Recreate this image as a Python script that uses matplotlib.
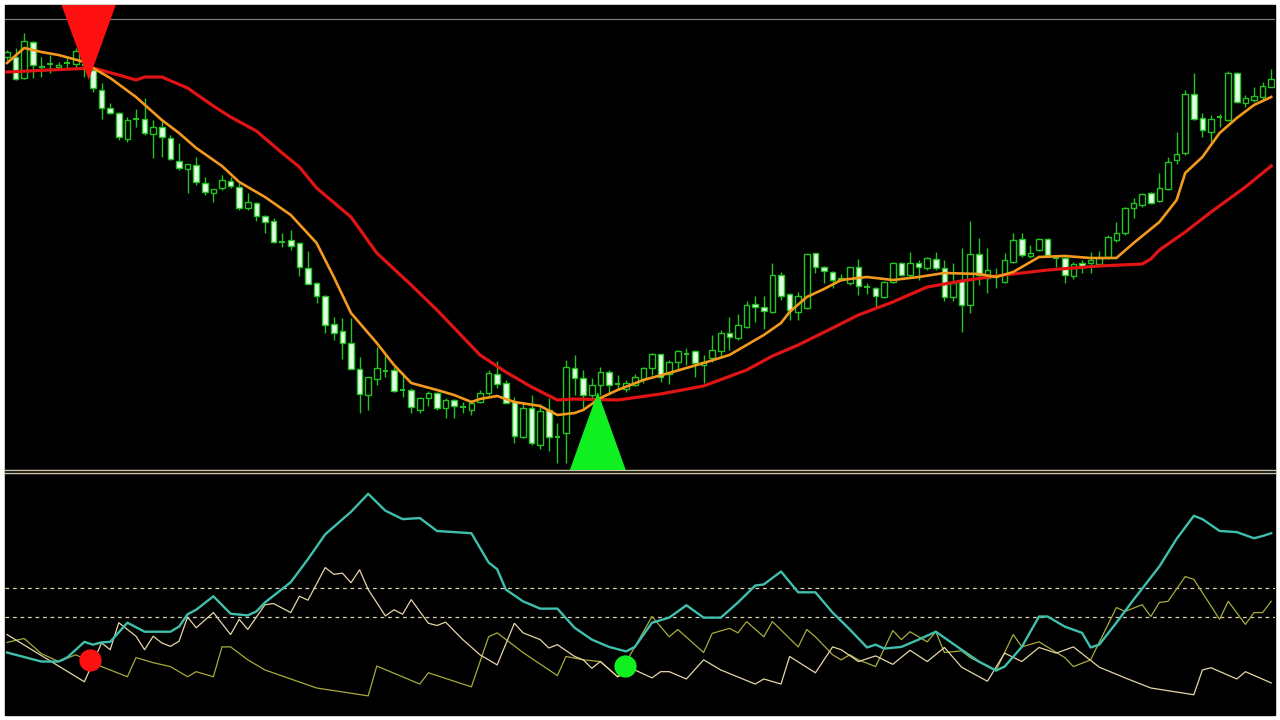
import numpy as np
import matplotlib
matplotlib.use("Agg")
import matplotlib.pyplot as plt
from matplotlib.patches import Rectangle

# price candles (chart points)
open_ = [443, 443, 422, 458, 434, 436, 433, 437, 436, 436, 430, 410, 392, 387, 361, 381, 381, 366, 373, 362,
         339, 331, 335, 317, 307, 312, 319, 313, 292, 297, 284, 279, 258, 260, 257, 232, 217, 204, 176, 169,
         157, 131, 105, 121, 129, 130, 110, 110, 90, 102, 107, 92, 100, 93, 90, 98, 107, 126, 117, 98,
         63, 92, 55, 90, 63, 67, 132, 122, 105, 115, 128, 116, 111, 115, 121, 132, 146, 126, 138, 146,
         149, 135, 142, 149, 167, 162, 173, 196, 193, 188, 225, 206, 188, 192, 247, 233, 228, 222, 217, 233,
         213, 212, 203, 218, 237, 225, 237, 232, 241, 232, 203, 220, 195, 246, 222, 223, 218, 238, 261, 244,
         250, 261, 242, 242, 224, 237, 237, 236, 243, 260, 267, 292, 295, 307, 299, 311, 340, 347, 406, 382,
         368, 383, 380, 427, 397, 400, 403, 413]
high = [450, 452, 467, 459, 443, 445, 438, 442, 452, 437, 432, 417, 397, 388, 383, 391, 402, 380, 380, 365,
        357, 336, 343, 323, 311, 325, 323, 317, 307, 298, 285, 282, 267, 270, 258, 249, 218, 205, 183, 182,
        182, 143, 123, 153, 145, 133, 127, 112, 103, 109, 108, 102, 101, 98, 100, 110, 130, 139, 120, 103,
        97, 105, 96, 102, 77, 140, 145, 130, 122, 133, 130, 125, 120, 126, 133, 147, 146, 140, 150, 152,
        150, 145, 165, 170, 183, 186, 199, 204, 204, 237, 228, 207, 208, 246, 247, 234, 229, 226, 233, 241,
        217, 213, 219, 238, 238, 248, 240, 243, 248, 240, 237, 252, 279, 262, 252, 232, 247, 267, 267, 255,
        262, 262, 245, 243, 238, 240, 248, 249, 265, 278, 293, 302, 307, 308, 327, 343, 368, 410, 427, 387,
        385, 386, 429, 428, 405, 413, 418, 431]
low = [440, 420, 421, 422, 423, 427, 430, 432, 432, 423, 408, 381, 386, 360, 358, 373, 365, 342, 343, 340,
       330, 307, 315, 305, 298, 310, 312, 290, 290, 279, 267, 257, 253, 250, 224, 216, 197, 167, 160, 141,
       131, 87, 90, 115, 123, 108, 103, 87, 87, 94, 90, 82, 82, 87, 85, 97, 105, 112, 97, 57,
       62, 55, 51, 49, 37, 37, 105, 92, 100, 105, 106, 110, 108, 114, 117, 125, 118, 116, 130, 135,
       123, 117, 138, 143, 150, 160, 172, 178, 171, 187, 200, 180, 180, 191, 227, 217, 212, 219, 215, 205,
       206, 193, 202, 217, 224, 223, 220, 230, 230, 199, 199, 168, 187, 215, 207, 212, 217, 237, 243, 242,
       249, 244, 233, 217, 221, 227, 227, 235, 241, 258, 265, 282, 293, 296, 298, 310, 336, 345, 380, 363,
       358, 373, 379, 397, 393, 398, 400, 413]
close = [448, 421, 459, 435, 433, 436, 435, 437, 449, 435, 412, 392, 387, 363, 380, 381, 367, 373, 363, 341,
         332, 336, 318, 308, 311, 320, 314, 292, 298, 284, 278, 258, 258, 254, 233, 216, 204, 175, 167, 157,
         131, 106, 123, 132, 129, 109, 110, 93, 102, 107, 92, 100, 94, 93, 97, 107, 127, 116, 97, 64,
         92, 57, 89, 63, 63, 133, 122, 105, 115, 128, 115, 116, 117, 123, 132, 146, 123, 138, 149, 146,
         137, 138, 150, 167, 163, 175, 195, 193, 189, 225, 204, 190, 204, 246, 233, 229, 220, 220, 233, 214,
         213, 204, 218, 237, 225, 237, 233, 242, 232, 203, 217, 195, 246, 225, 230, 223, 240, 260, 245, 247,
         261, 245, 242, 225, 236, 234, 240, 242, 263, 267, 292, 297, 306, 297, 312, 338, 346, 406, 381, 370,
         381, 383, 427, 398, 402, 404, 414, 421]

# moving averages, read at bar positions
fast_ma_bar = [0, 2, 4, 6, 9, 10, 12, 15, 18, 20, 22, 25, 27, 30, 33, 36, 38, 40, 43, 45, 47, 50, 52, 54, 55,
               57, 59, 62, 64, 66, 67, 69, 71, 74, 77, 81, 84, 88, 90, 91, 93, 95, 97, 100, 103, 106, 109,
               113, 115, 117, 120, 123, 126, 129, 131, 134, 136, 137, 139, 141, 143, 145, 147]
fast_ma = [437, 452, 448, 445, 438, 432, 422, 403, 380, 367, 352, 334, 318, 303, 285, 257, 223, 187, 157, 135,
           117, 110, 105, 98, 101, 104, 98, 94, 85, 87, 90, 102, 110, 120, 127, 137, 145, 165, 177, 188,
           203, 211, 220, 223, 220, 223, 227, 226, 223, 228, 243, 244, 242, 242, 257, 278, 300, 327, 343,
           367, 382, 395, 403]
slow_ma_bar = [0, 5, 10, 13, 15, 16, 18, 21, 24, 26, 29, 32, 34, 36, 40, 43, 47, 50, 53, 55, 58, 61, 64, 66,
               71, 76, 81, 86, 89, 92, 96, 99, 103, 107, 111, 115, 121, 124, 127, 132, 133, 134, 137, 140,
               144, 147]
slow_ma = [428, 430, 432, 425, 420, 423, 423, 412, 394, 383, 369, 347, 333, 312, 283, 247, 215, 190, 163, 145,
           128, 113, 100, 101, 100, 106, 114, 130, 144, 155, 172, 185, 198, 213, 219, 224, 230, 232, 234, 236,
           241, 250, 268, 288, 313, 334]

level_price = 481
sell_bar, sell_price = 9.5, 420
buy_bar, buy_price = 68.7, 108

# ADX panel
adx_bar = [0, 4, 6, 7, 9, 10, 11, 12, 14, 16, 19, 20, 21, 22, 24, 26, 28, 29, 30, 33, 35, 37, 40, 42, 44, 46,
           48, 50, 54, 56, 57, 58, 60, 62, 64, 66, 68, 70, 72, 73, 75, 77, 79, 81, 83, 85, 87, 88, 90, 92,
           94, 96, 98, 100, 101, 102, 104, 106, 108, 111, 113, 115, 116, 118, 120, 121, 123, 125, 126, 127,
           129, 131, 134, 136, 138, 139, 141, 143, 145, 146, 147]
adx = [13.6, 12.0, 12.0, 12.7, 15.5, 15.0, 15.4, 15.5, 18.9, 17.3, 17.3, 18.2, 20.4, 21.2, 23.6, 20.5, 20.2,
       20.9, 22.5, 26.1, 30.2, 34.6, 38.6, 41.8, 38.8, 37.3, 37.5, 35.2, 34.8, 29.6, 28.4, 24.8, 22.7, 21.4,
       21.4, 18.0, 15.9, 14.6, 13.8, 14.6, 18.9, 19.8, 22.0, 19.8, 19.8, 22.5, 25.5, 25.7, 28.0, 24.3, 24.3,
       20.7, 17.7, 14.5, 15.0, 14.3, 14.6, 15.9, 17.3, 14.1, 12.0, 10.4, 11.1, 14.6, 20.0, 20.0, 18.2, 17.1,
       14.5, 15.0, 18.9, 23.0, 28.9, 33.8, 37.9, 37.3, 35.2, 35.0, 33.9, 34.3, 34.8]
minus_di_bar = [0, 9, 11, 12, 13, 15, 16, 17, 18, 19, 20, 21, 22, 24, 26, 27, 28, 30, 31, 33, 34, 35, 37, 38,
                39, 40, 41, 42, 44, 45, 46, 47, 49, 50, 51, 53, 55, 57, 59, 60, 62, 63, 64, 66, 67, 68, 69,
                71, 73, 75, 76, 77, 79, 81, 83, 87, 88, 90, 91, 94, 96, 97, 99, 101, 103, 105, 107, 109,
                111, 114, 116, 118, 120, 122, 124, 127, 130, 133, 138, 139, 140, 143, 144, 147]
minus_di = [16.8, 8.4, 15.3, 14.1, 18.9, 16.5, 14.1, 16.5, 15.3, 14.7, 15.6, 19.9, 18.0, 20.7, 16.8, 19.5,
            17.7, 22.1, 22.3, 20.7, 23.6, 22.9, 28.7, 27.5, 27.7, 26.0, 28.3, 24.8, 20.1, 21.2, 20.4, 23.0,
            18.8, 18.4, 19.0, 15.9, 13.2, 11.4, 18.8, 17.1, 15.9, 14.4, 15.0, 12.9, 12.3, 10.8, 12.0, 9.3,
            10.5, 9.1, 10.2, 10.2, 8.9, 12.3, 10.5, 8.0, 8.9, 8.0, 12.9, 10.0, 14.6, 14.1, 12.0, 13.0, 11.5,
            14.0, 12.0, 14.5, 11.0, 8.5, 13.5, 12.0, 14.5, 13.5, 14.6, 11.0, 9.1, 7.3, 6.1, 10.5, 10.9, 8.9,
            10.2, 8.2]
plus_di_bar = [0, 2, 4, 5, 6, 8, 11, 14, 15, 17, 19, 21, 22, 24, 25, 26, 28, 30, 33, 36, 42, 43, 48, 49, 54,
               56, 57, 60, 64, 65, 67, 69, 71, 73, 75, 77, 78, 81, 82, 84, 85, 86, 88, 89, 92, 93, 94, 96,
               97, 98, 99, 101, 103, 104, 105, 107, 108, 109, 111, 112, 115, 117, 118, 120, 123, 124, 126,
               129, 130, 132, 133, 134, 135, 137, 138, 141, 142, 144, 145, 146, 147]
plus_di = [15.4, 16.1, 13.4, 12.7, 12.0, 13.2, 11.1, 9.3, 12.7, 11.8, 11.1, 9.3, 10.2, 9.3, 14.6, 14.6, 12.3,
           10.5, 8.9, 7.3, 5.9, 11.2, 8.0, 10.0, 7.5, 16.4, 17.1, 13.6, 9.5, 12.9, 12.3, 12.0, 9.3, 14.6,
           20.0, 16.4, 17.7, 13.6, 17.0, 17.9, 17.1, 19.1, 16.4, 19.1, 14.6, 17.7, 16.4, 13.2, 12.3, 13.2,
           12.3, 11.1, 17.5, 15.9, 17.3, 15.5, 17.3, 13.6, 13.9, 12.7, 10.4, 16.8, 14.6, 15.5, 12.7, 11.1,
           12.3, 21.6, 20.9, 22.1, 20.0, 22.5, 22.7, 27.1, 26.6, 19.5, 22.7, 18.6, 20.7, 20.7, 22.7]
adx_levels = [20, 25]
sell_dot_bar, sell_dot = 9.65, 12.3
buy_dot_bar, buy_dot = 71.9, 11.25

GREEN = "#22c322"
BODY = "#e2ffe2"


def draw_candles(ax):
    x = np.arange(len(open_))
    o = np.array(open_, float)
    c = np.array(close, float)
    ax.vlines(x, low, high, color=GREEN, lw=1.0, zorder=2)
    lo = np.minimum(o, c)
    h = np.abs(c - o)
    up = c > o
    down = c < o
    flat = c == o
    ax.bar(x[up], h[up], bottom=lo[up], width=0.64, facecolor="black",
           edgecolor=GREEN, lw=1.0, zorder=3)
    ax.bar(x[down], h[down], bottom=lo[down], width=0.64, facecolor=BODY,
           edgecolor=GREEN, lw=1.0, zorder=3)
    ax.hlines(o[flat], x[flat] - 0.33, x[flat] + 0.33, color=GREEN, lw=1.5, zorder=3)


fig = plt.figure(figsize=(12.8, 7.2), dpi=100, facecolor="white")
# black backing so the small gap between the two panels stays dark
fig.patches.append(Rectangle((5 / 1280, 5 / 720), 1270 / 1280, 710 / 720,
                             transform=fig.transFigure, color="black", zorder=-10))

ax = fig.add_axes([5 / 1280, 250 / 720, 1270 / 1280, 465 / 720], facecolor="black", zorder=1)
ax2 = fig.add_axes([5 / 1280, 5 / 720, 1270 / 1280, 242 / 720], facecolor="black", zorder=1)

xmin, xmax = -0.23, 147.44

draw_candles(ax)
ax.plot(slow_ma_bar, slow_ma, color="#e01414", lw=2.3, zorder=4, solid_joinstyle="round")
ax.plot(fast_ma_bar, fast_ma, color="#f39a1e", lw=1.9, zorder=5, solid_joinstyle="round")
ax.axhline(level_price, color="#7a7a7a", lw=0.9, zorder=1)

# signal arrows
ax.fill([sell_bar - 3.15, sell_bar + 3.15, sell_bar], [sell_price + 75, sell_price + 75, sell_price],
        color="#ff1010", lw=0, zorder=6)
ax.fill([buy_bar - 3.25, buy_bar + 3.25, buy_bar], [buy_price - 78, buy_price - 78, buy_price],
        color="#10f020", lw=0, zorder=6)

ax.set_xlim(xmin, xmax)
ax.set_ylim(30, 495)

ax2.plot(plus_di_bar, plus_di, color="#a8aa3c", lw=0.9, zorder=3)
ax2.plot(minus_di_bar, minus_di, color="#e6d6a8", lw=0.9, zorder=3)
ax2.plot(adx_bar, adx, color="#3fc0ad", lw=1.7, zorder=4, solid_joinstyle="round")
for lv in adx_levels:
    ax2.axhline(lv, color="#d8d0b0", lw=0.9, dashes=(3, 3), zorder=2)
ax2.plot(sell_dot_bar, sell_dot, "o", color="#ff1010", ms=16, mec="none", zorder=5)
ax2.plot(buy_dot_bar, buy_dot, "o", color="#10f020", ms=16, mec="none", zorder=5)
ax2.set_xlim(xmin, xmax)
ax2.set_ylim(2.5, 45.5)

for a in (ax, ax2):
    a.set_xticks([])
    a.set_yticks([])
    for s in a.spines.values():
        s.set_visible(False)

ax.spines["bottom"].set_visible(True)
ax.spines["bottom"].set_color("#cfc6a8")
ax.spines["bottom"].set_linewidth(1.0)
ax2.spines["top"].set_visible(True)
ax2.spines["top"].set_color("#cfc6a8")
ax2.spines["top"].set_linewidth(1.0)

fig.savefig("out.png", dpi=100, facecolor="white")
